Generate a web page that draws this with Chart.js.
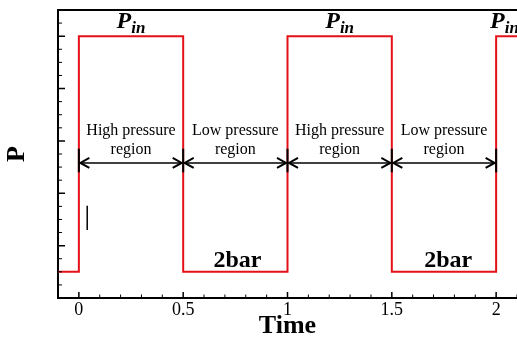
<!DOCTYPE html>
<html>
<head>
<meta charset="utf-8">
<script src="https://cdn.jsdelivr.net/npm/chart.js@4/dist/chart.umd.min.js"></script>
<style>
  html, body { margin: 0; padding: 0; background: #fff; overflow: hidden; }
  #wrap { width: 517px; height: 339px; position: relative; }
</style>
</head>
<body>
<div id="wrap"><canvas id="pChart"></canvas></div>
<script>
// step signal: pressure vs time
let times = [-0.1, 0, 0.5, 1, 1.5, 2, 2.1];
let pressure = [0.5, 5, 0.5, 5, 0.5, 5, 5];

// where the pressure switches
let switchTimes = [0, 0.5, 1, 1.5, 2];
let markerRange = [2.4, 2.85];

// arrows between the switches and their labels
let arrowSpans = [[0, 0.5], [0.5, 1], [1, 1.5], [1.5, 2]];
let arrowLevel = 2.58;
let regionLabels = [['High pressure', 'region'], ['Low pressure', 'region'], ['High pressure', 'region'], ['Low pressure', 'region']];

// "P_in" and "2bar" notes
let pinX = [0.25, 1.25, 2.04];
let pinY = 5.15;
let lowX = [0.76, 1.77];
let lowY = 0.59;

// the odd little vertical stroke near t=0
let strokeX = [0.04, 0.04];
let strokeY = [1.3, 1.76];

// axis ticks
let xTicks = [0, 0.5, 1, 1.5, 2];
let xMinor = [-0.1, 0.1, 0.2, 0.3, 0.4, 0.6, 0.7, 0.8, 0.9, 1.1, 1.2, 1.3, 1.4, 1.6, 1.7, 1.8, 1.9, 2.1];
let yTicks = [0, 1, 2, 3, 4, 5];
let yMinor = [0.25, 0.5, 0.75, 1.25, 1.5, 1.75, 2.25, 2.5, 2.75, 3.25, 3.5, 3.75, 4.25, 4.5, 4.75, 5.25];

const serif = "'Liberation Serif', 'Times New Roman', serif";
const red = 'rgb(230, 16, 24)';

// datasets
let datasets = [];
datasets.push({
    label: 'P',
    data: times.map((t, i) => ({x: t, y: pressure[i]})),
    showLine: true,
    stepped: 'before',
    borderColor: red,
    borderWidth: 2,
    pointRadius: 0,
    order: 2
});
switchTimes.forEach(t => {
    datasets.push({
        data: [{x: t, y: markerRange[0]}, {x: t, y: markerRange[1]}],
        showLine: true,
        borderColor: '#000',
        borderWidth: 2,
        pointRadius: 0,
        order: 1
    });
});
arrowSpans.forEach(s => {
    datasets.push({
        data: [{x: s[0], y: arrowLevel}, {x: s[1], y: arrowLevel}],
        showLine: true,
        borderColor: '#000',
        borderWidth: 1.5,
        pointRadius: 0,
        order: 1
    });
});
datasets.push({
    data: strokeX.map((x, i) => ({x: x, y: strokeY[i]})),
    showLine: true,
    borderColor: '#000',
    borderWidth: 1.5,
    pointRadius: 0,
    order: 1
});

// draws the top frame line and the inward ticks
const frame = {
    id: 'frame',
    afterDraw(chart) {
        const ctx = chart.ctx;
        const a = chart.chartArea;
        const xs = chart.scales.x, ys = chart.scales.y;
        ctx.save();
        ctx.strokeStyle = '#000';
        ctx.lineWidth = 2;
        ctx.beginPath();
        ctx.moveTo(a.left - 1, a.top);
        ctx.lineTo(a.right, a.top);
        ctx.stroke();

        ctx.lineWidth = 1.5;
        ctx.beginPath();
        xTicks.forEach(v => { let px = xs.getPixelForValue(v); ctx.moveTo(px, a.bottom); ctx.lineTo(px, a.bottom - 6); });
        yTicks.forEach(v => { let py = ys.getPixelForValue(v); ctx.moveTo(a.left, py); ctx.lineTo(a.left + 7, py); });
        ctx.stroke();
        ctx.lineWidth = 1;
        ctx.beginPath();
        xMinor.forEach(v => { let px = xs.getPixelForValue(v); ctx.moveTo(px, a.bottom); ctx.lineTo(px, a.bottom - 3.5); });
        yMinor.forEach(v => { let py = ys.getPixelForValue(v); ctx.moveTo(a.left, py); ctx.lineTo(a.left + 4, py); });
        ctx.stroke();
        ctx.restore();
    }
};

// arrowheads and the text notes
const notes = {
    id: 'notes',
    afterDatasetsDraw(chart) {
        const ctx = chart.ctx;
        const xs = chart.scales.x, ys = chart.scales.y;
        ctx.save();
        ctx.strokeStyle = '#000';
        ctx.lineWidth = 2;
        let ay = ys.getPixelForValue(arrowLevel);
        arrowSpans.forEach(s => {
            let x0 = xs.getPixelForValue(s[0]) + 1.5;
            let x1 = xs.getPixelForValue(s[1]) - 1.5;
            ctx.beginPath();
            ctx.moveTo(x0 + 9, ay - 5); ctx.lineTo(x0, ay); ctx.lineTo(x0 + 9, ay + 5);
            ctx.moveTo(x1 - 9, ay - 5); ctx.lineTo(x1, ay); ctx.lineTo(x1 - 9, ay + 5);
            ctx.stroke();
        });

        ctx.fillStyle = '#000';
        ctx.textAlign = 'center';
        ctx.textBaseline = 'alphabetic';
        ctx.font = '16px ' + serif;
        arrowSpans.forEach((s, i) => {
            let cx = xs.getPixelForValue((s[0] + s[1]) / 2);
            ctx.fillText(regionLabels[i][0], cx, ay - 28);
            ctx.fillText(regionLabels[i][1], cx, ay - 9);
        });

        ctx.font = 'bold 24px ' + serif;
        lowX.forEach(x => {
            ctx.fillText('2bar', xs.getPixelForValue(x), ys.getPixelForValue(lowY));
        });

        ctx.textAlign = 'left';
        let py = ys.getPixelForValue(pinY);
        pinX.forEach(x => {
            ctx.font = 'italic bold 24px ' + serif;
            let wP = ctx.measureText('P').width;
            ctx.font = 'italic bold 17px ' + serif;
            let wi = ctx.measureText('in').width;
            let left = xs.getPixelForValue(x) - (wP + wi) / 2;
            ctx.font = 'italic bold 24px ' + serif;
            ctx.fillText('P', left, py);
            ctx.font = 'italic bold 17px ' + serif;
            ctx.fillText('in', left + wP, py + 5);
        });
        ctx.restore();
    }
};

let chart = new Chart(document.getElementById('pChart'), {
    type: 'scatter',
    data: { datasets: datasets },
    options: {
        responsive: true,
        maintainAspectRatio: false,
        animation: false,
        devicePixelRatio: 1,
        layout: { padding: { top: 10, right: 0, left: 0, bottom: 0 } },
        plugins: { legend: { display: false }, tooltip: { enabled: false } },
        scales: {
            x: {
                type: 'linear',
                min: -0.1,
                max: 2.1,
                afterBuildTicks: s => { s.ticks = xTicks.map(v => ({value: v})); },
                afterFit: s => { s.height = 41; },
                grid: { display: false, drawTicks: false },
                border: { display: true, color: '#000', width: 2 },
                ticks: {
                    padding: 1,
                    color: '#000',
                    maxRotation: 0,
                    autoSkip: false,
                    font: { family: serif, size: 18 },
                    callback: v => String(v)
                },
                title: {
                    display: true,
                    text: 'Time',
                    color: '#000',
                    font: { family: serif, size: 26, weight: 'bold', lineHeight: 1 },
                    padding: { top: 0, bottom: 0 }
                }
            },
            y: {
                type: 'linear',
                min: 0,
                max: 5.5,
                afterBuildTicks: s => { s.ticks = yTicks.map(v => ({value: v})); },
                afterFit: s => { s.width = 58; },
                grid: { display: false, drawTicks: false },
                border: { display: true, color: '#000', width: 2 },
                ticks: { display: false },
                title: {
                    display: true,
                    text: 'P',
                    color: '#000',
                    font: { family: serif, size: 26, weight: 'bold', lineHeight: 1 },
                    padding: { top: 4, bottom: 0 }
                }
            }
        }
    },
    plugins: [frame, notes]
});
</script>
</body>
</html>
